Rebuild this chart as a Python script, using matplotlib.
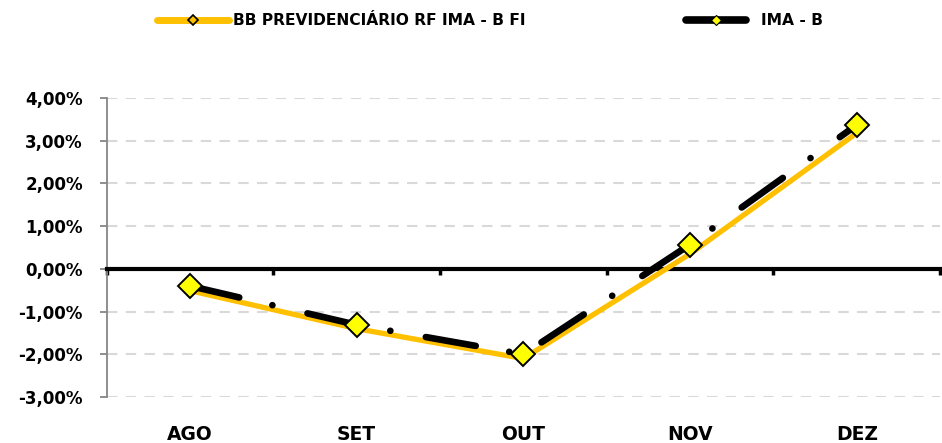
import numpy as np
import matplotlib
matplotlib.use("Agg")
import matplotlib.pyplot as plt
from matplotlib.lines import Line2D
from matplotlib.legend_handler import HandlerLine2D
from matplotlib.ticker import FuncFormatter

# data (monthly return, %)
months = ["AGO", "SET", "OUT", "NOV", "DEZ"]
bb_prev = [-0.51, -1.40, -2.10, 0.35, 3.18]
ima_b = [-0.40, -1.31, -2.00, 0.57, 3.37]
series_names = ["BB PREVIDENCIÁRIO RF IMA - B FI", "IMA - B"]
y_ticks = [-3, -2, -1, 0, 1, 2, 3, 4]

YELLOW = "#FFC000"
plt.rcParams["font.family"] = ["DejaVu Sans"]
plt.rcParams["font.weight"] = "bold"


def pct(v, pos):
    return f"{v:.2f}".replace(".", ",") + "%"


class ShortHandle(HandlerLine2D):
    # legend line a bit shorter than the default handle box
    def get_xdata(self, legend, xdescent, ydescent, width, height, fontsize):
        xd, xm = super().get_xdata(legend, xdescent, ydescent, width, height, fontsize)
        x0, x1 = xd[0], xd[-1]
        x1 = x0 + 0.85 * (x1 - x0)
        return np.array([x0, x1]), np.array([(x0 + x1) / 2])


def main():
    fig = plt.figure(figsize=(9.42, 4.43), dpi=100)
    ax = fig.add_axes([0.1131, 0.1038, 0.8849, 0.675])
    x = np.arange(len(months))

    ax.plot(x, bb_prev, color=YELLOW, lw=3.8, solid_capstyle="round", zorder=4)
    # long dash - dot, like the excel "long dash dot" style
    ax.plot(x, ima_b, color="black", lw=4.8, dashes=(7.6, 5.1, 0.01, 5.4),
            dash_capstyle="round", zorder=5)
    ax.plot(x, ima_b, ls="none", marker="D", ms=12, mfc="#FFFF00",
            mec="black", mew=1.4, zorder=6)

    ax.set_xlim(-0.5, len(months) - 0.5)
    ax.set_ylim(y_ticks[0], y_ticks[-1])
    ax.set_yticks(y_ticks)
    ax.yaxis.set_major_formatter(FuncFormatter(pct))
    ax.tick_params(axis="y", length=5, width=1.3, color="#868686", pad=12,
                   labelsize=12)
    ax.grid(axis="y", color="#D9D9D9", lw=1.5, dashes=(5, 4))
    ax.set_axisbelow(True)

    for s in ["top", "right"]:
        ax.spines[s].set_visible(False)
    ax.spines["left"].set_color("#868686")
    ax.spines["left"].set_linewidth(1.3)

    # zero axis with category boundary ticks
    ax.spines["bottom"].set_position(("data", 0))
    ax.spines["bottom"].set_linewidth(3)
    ax.spines["bottom"].set_zorder(3)
    ax.set_xticks(np.arange(len(months) + 1) - 0.5)
    ax.set_xticklabels([])
    ax.tick_params(axis="x", direction="out", length=4, width=2.5, color="black")

    # category labels below the plot
    sec = ax.secondary_xaxis(0)
    sec.spines["bottom"].set_visible(False)
    sec.set_xticks(x)
    sec.set_xticklabels(months, fontsize=13.5, fontweight="bold")
    sec.tick_params(length=0, pad=20)

    h_bb = Line2D([], [], color=YELLOW, lw=5, solid_capstyle="round", marker="D",
                  ms=5.5, mfc=YELLOW, mec="black", mew=1.2)
    h_ima = Line2D([], [], color="black", lw=5.5, solid_capstyle="round", marker="D",
                   ms=5, mfc="#FFFF00", mec="black", mew=0.8)
    fig.legend([h_bb, h_ima], series_names, loc="center left",
               bbox_to_anchor=(0.152, 0.953), ncol=2, frameon=False,
               handlelength=4.6, handletextpad=0.27, columnspacing=10.3,
               handler_map={h_ima: ShortHandle()},
               prop={"weight": "bold", "size": 11.2})

    fig.savefig("out.png", dpi=100)


if __name__ == "__main__":
    main()
